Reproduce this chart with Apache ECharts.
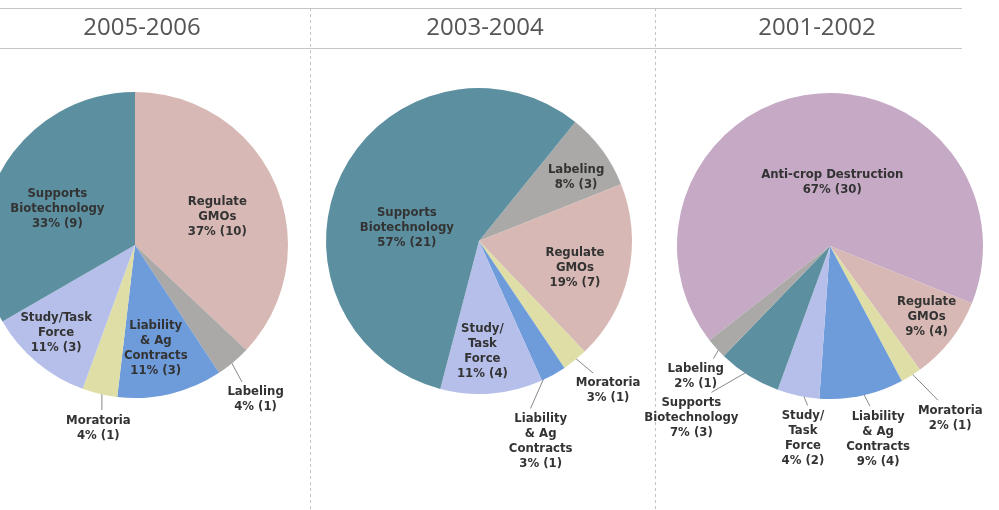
<!DOCTYPE html>
<html>
<head>
<meta charset="utf-8">
<title>Resolutions by period</title>
<script src="https://cdn.jsdelivr.net/npm/echarts@6.0.0/dist/echarts.min.js"></script>
<style>
  html, body { margin: 0; padding: 0; background: #fff; }
  #main { width: 999px; height: 510px; }
</style>
</head>
<body>
<div id="main"></div>
<script>
// column headers
var periods = ['2005-2006', '2003-2004', '2001-2002'];

// 2005-2006, clockwise from 12 o'clock
var cats0506 = ['Regulate GMOs', 'Labeling', 'Liability & Ag Contracts', 'Moratoria', 'Study/Task Force', 'Supports Biotechnology'];
var values0506 = [10, 1, 3, 1, 3, 9];

// 2003-2004
var cats0304 = ['Labeling', 'Regulate GMOs', 'Moratoria', 'Liability & Ag Contracts', 'Study/Task Force', 'Supports Biotechnology'];
var values0304 = [3, 7, 1, 1, 4, 21];

// 2001-2002
var cats0102 = ['Anti-crop Destruction', 'Regulate GMOs', 'Moratoria', 'Liability & Ag Contracts', 'Study/Task Force', 'Supports Biotechnology', 'Labeling'];
var values0102 = [30, 4, 1, 4, 2, 3, 1];

var colors = {
  'Supports Biotechnology': '#5c8f9f',
  'Regulate GMOs': '#d7b8b4',
  'Labeling': '#aaa9a8',
  'Liability & Ag Contracts': '#6e9bda',
  'Moratoria': '#dedea6',
  'Study/Task Force': '#b6bfea',
  'Anti-crop Destruction': '#c5a9c5'
};

// how label text is broken into lines
var wrapped = {
  'Regulate GMOs': 'Regulate\nGMOs',
  'Liability & Ag Contracts': 'Liability\n& Ag\nContracts',
  'Supports Biotechnology': 'Supports\nBiotechnology',
  'Study/Task Force': 'Study/\nTask\nForce'
};

var R = 153;

// label placement: [fraction of radius, angle nudge in degrees]
var pies = [
  {cats: cats0506, values: values0506, center: [135, 245], start: 90,
   outside: [false, true, false, true, false, false],
   place: [[0.57, 4], [1.28, 2], [0.69, 2], [1.22, -2], [0.77, 2], [0.56, -5]],
   wrap: {'Study/Task Force': 'Study/Task\nForce'}},
  {cats: cats0304, values: values0304, center: [479, 241], start: 51,
   outside: [false, false, true, true, false, false],
   place: [[0.76, 3], [0.65, 3], [1.29, -2], [1.37, 12], [0.72, 3], [0.48, -16]],
   wrap: {}},
  {cats: cats0102, values: values0102, center: [830, 246], start: -142,
   outside: [false, false, true, true, true, true, true],
   place: [[0.42, 10], [0.78, -2], [1.37, -3], [1.3, -2], [1.27, -4], [1.44, 7], [1.22, -2]],
   wrap: {}}
];

function makeSeries(p) {
  var total = p.values.reduce(function (a, b) { return a + b; }, 0);
  return {
    type: 'pie',
    center: p.center,
    radius: [0, R],
    startAngle: p.start,
    clockwise: true,
    avoidLabelOverlap: false,
    silent: true,
    animation: false,
    itemStyle: {borderWidth: 0},
    label: {
      fontFamily: '"DejaVu Sans Condensed", "DejaVu Sans"',
      fontWeight: 'bold',
      fontSize: 13,
      lineHeight: 15,
      color: '#333',
      align: 'center',
      formatter: function (prm) {
        var txt = p.wrap[prm.name] || wrapped[prm.name] || prm.name;
        var pct = Math.round(prm.value / total * 100);
        return txt + '\n' + pct + '% (' + prm.value + ')';
      }
    },
    labelLine: {show: true, length: 8, length2: 0, lineStyle: {color: '#888', width: 1}},
    labelLayout: function (prm) {
      var c = p.center;
      var pl = p.place[prm.dataIndex];
      var isOut = p.outside[prm.dataIndex];
      var ref;
      if (isOut && prm.labelLinePoints && prm.labelLinePoints.length) {
        ref = prm.labelLinePoints[0];
      } else {
        ref = [prm.labelRect.x + prm.labelRect.width / 2, prm.labelRect.y + prm.labelRect.height / 2];
      }
      var mid = Math.atan2(ref[1] - c[1], ref[0] - c[0]);
      var a = mid + pl[1] * Math.PI / 180;
      var ux = Math.cos(a), uy = Math.sin(a);
      var x = c[0] + R * pl[0] * ux, y = c[1] + R * pl[0] * uy;
      var out = {x: x, y: y, align: 'center', verticalAlign: 'middle'};
      if (isOut) {
        var w = prm.labelRect.width / 2, h = prm.labelRect.height / 2;
        var tx = Math.abs(ux) > 1e-6 ? w / Math.abs(ux) : 1e9;
        var ty = Math.abs(uy) > 1e-6 ? h / Math.abs(uy) : 1e9;
        var t = Math.min(tx, ty) + 3;
        var start = [c[0] + R * 0.94 * Math.cos(mid), c[1] + R * 0.94 * Math.sin(mid)];
        out.labelLinePoints = [start, [x - ux * t, y - uy * t]];
      }
      return out;
    },
    data: p.cats.map(function (name, i) {
      return {
        name: name,
        value: p.values[i],
        itemStyle: {color: colors[name]},
        label: {position: p.outside[i] ? 'outside' : 'inside'},
        labelLine: {show: p.outside[i]}
      };
    })
  };
}

var titleX = [142, 485, 817];

var myChart = echarts.init(document.getElementById('main'));
var option = {
  backgroundColor: '#fff',
  graphic: [
    {type: 'line', shape: {x1: 0, y1: 8.5, x2: 962, y2: 8.5}, style: {stroke: '#c6c6c6', lineWidth: 1}},
    {type: 'line', shape: {x1: 0, y1: 48.5, x2: 962, y2: 48.5}, style: {stroke: '#c6c6c6', lineWidth: 1}},
    {type: 'line', shape: {x1: 310.5, y1: 8, x2: 310.5, y2: 510}, style: {stroke: '#c4c4c4', lineWidth: 1, lineDash: [3, 3]}},
    {type: 'line', shape: {x1: 655.5, y1: 8, x2: 655.5, y2: 510}, style: {stroke: '#c4c4c4', lineWidth: 1, lineDash: [3, 3]}}
  ].concat(periods.map(function (t, i) {
    return {
      type: 'text',
      x: titleX[i], y: 28,
      style: {text: t, fill: '#555', font: '24px "Open Sans"', textAlign: 'center', textVerticalAlign: 'middle'}
    };
  })),
  series: pies.map(makeSeries)
};

myChart.setOption(option);
</script>
</body>
</html>
